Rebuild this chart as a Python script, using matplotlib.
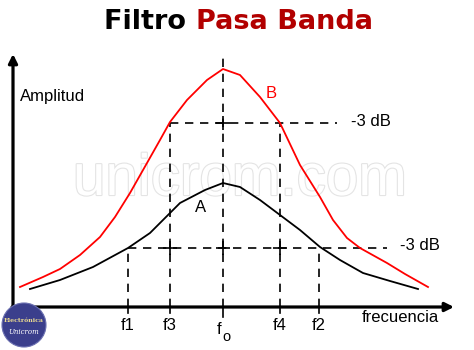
"""Filtro pasa banda: curvas A y B con puntos de -3 dB."""

import numpy as np
import matplotlib
matplotlib.use("Agg")
import matplotlib.pyplot as plt
import matplotlib.patheffects as pe
from matplotlib.patches import Circle

# ─── Data (x en unidades del eje de frecuencia, y = amplitud) ───
f_names = ["f1", "f3", "fo", "f4", "f2"]
f_pos = [128, 170, 223, 280, 319]

curve_b_x = [20, 43, 60, 80, 100, 115, 130, 147, 160, 170, 187, 207, 223, 240, 260, 280,
             300, 320, 333, 347, 360, 387, 405, 428]
curve_b_y = [20, 30, 38, 52, 70, 90, 114, 144, 167, 185, 207, 227, 238, 232, 210, 184,
             142, 110, 87, 69, 59, 44, 33, 20]

curve_a_x = [30, 60, 93, 128, 150, 170, 180, 205, 223, 240, 260, 280, 300, 320, 340, 363, 390, 418]
curve_a_y = [18, 27, 40, 59, 74, 94, 104, 117, 124, 120, 107, 92, 77, 60, 47, 34, 26, 18]

db_high = 184   # -3 dB de la curva B
db_low = 59     # -3 dB de la curva A
fo_top = 250

fig = plt.figure(figsize=(4.74, 3.5), dpi=100)
ax = fig.add_axes([0, 0, 1, 1])
ax.set_xlim(0, 474)
ax.set_ylim(-43, 307)
ax.axis("off")

txt = dict(family="Liberation Sans", fontsize=12, color="black")

# watermark
ax.text(240, 112, "unicrom.com", ha="center", va="baseline", fontsize=42,
        family="Liberation Sans", color="white", zorder=0,
        path_effects=[pe.withStroke(linewidth=1.6, foreground="#e4e4e4")])

# title
t1 = ax.text(104, 285, "Filtro ", ha="left", va="center", fontsize=19.5,
             fontweight="bold", family="DejaVu Sans", color="black")
ax.annotate("Pasa Banda", xy=(1, 0), xycoords=t1, ha="left", va="bottom",
            fontsize=19.5, fontweight="bold", family="DejaVu Sans", color="#b20000")

# dashed guide lines
dash = dict(color="black", lw=1.2, ls=(0, (5, 4)), zorder=2)
ax.plot([f_pos[0], f_pos[0]], [0, db_low], **dash)
ax.plot([f_pos[4], f_pos[4]], [0, db_low], **dash)
ax.plot([f_pos[1], f_pos[1]], [0, db_high], **dash)
ax.plot([f_pos[3], f_pos[3]], [0, db_high], **dash)
ax.plot([f_pos[2], f_pos[2]], [0, fo_top], **dash)
ax.plot([f_pos[1], 337], [db_high, db_high], **dash)
ax.plot([f_pos[0], 387], [db_low, db_low], **dash)

# crosses where the guides meet
ax.plot([f_pos[2], f_pos[2], f_pos[1], f_pos[3]], [db_high, db_low, db_low, db_low],
        "+", color="black", ms=10, mew=1.2, zorder=3)

# ticks on the frequency axis
for name, x in zip(f_names, f_pos):
    ax.plot([x, x], [0, -10 if name == "fo" else -6], color="black", lw=1.2)

# curves
ax.plot(curve_b_x, curve_b_y, color="#ff0000", lw=1.3, zorder=4)
ax.plot(curve_a_x, curve_a_y, color="black", lw=1.3, zorder=4)

# axes with arrows
ax.annotate("", xy=(454, 0), xytext=(12, 0),
            arrowprops=dict(arrowstyle="-|>", lw=2.3, color="black", mutation_scale=13,
                            shrinkA=0, shrinkB=0))
ax.annotate("", xy=(13, 253), xytext=(13, -1),
            arrowprops=dict(arrowstyle="-|>", lw=2.3, color="black", mutation_scale=13,
                            shrinkA=0, shrinkB=0))

# labels
ax.text(20, 210, "Amplitud", ha="left", va="center", **txt)
ax.text(362, -11, "frecuencia", ha="left", va="center", **txt)
ax.text(351, 185, "-3 dB", ha="left", va="center", **txt)
ax.text(400, 62, "-3 dB", ha="left", va="center", **txt)
ax.text(271, 214, "B", ha="center", va="center", family="Liberation Sans",
        fontsize=12, color="#ff0000")
ax.text(201, 100, "A", ha="center", va="center", **txt)
for name, x in zip(f_names, f_pos):
    if name == "fo":
        ax.text(x - 4, -22, "f", ha="center", va="center", **txt)
        ax.text(x + 3, -30, "o", ha="center", va="center", family="Liberation Sans",
                fontsize=10.5, color="black")
    else:
        ax.text(x, -18, name, ha="center", va="center", **txt)

# logo
ax.add_patch(Circle((24, -18), 22, facecolor="#3b3f8c", edgecolor="#6a6fb0", lw=0.8, zorder=6))
ax.text(24, -13, "Electrónica", ha="center", va="center", fontsize=4.5, color="#e8d890",
        family="DejaVu Serif", fontweight="bold", zorder=7)
ax.text(24, -25, "Unicrom", ha="center", va="center", fontsize=5, color="white",
        family="DejaVu Serif", style="italic", zorder=7)

plt.savefig("out.png", dpi=100)
